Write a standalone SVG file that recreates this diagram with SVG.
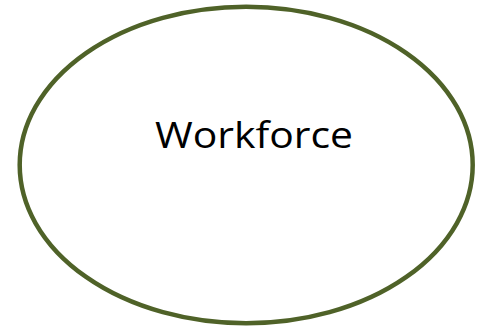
<svg xmlns="http://www.w3.org/2000/svg" width="483" height="327" viewBox="0 0 483 327">
<style>
.node-shape{fill:#ffffff;stroke:#4f6228;stroke-width:4.5}
.label{font-family:"Open Sans","Liberation Sans",sans-serif;font-size:36px;fill:#000000}
</style>
<rect width="483" height="327" fill="#ffffff"/>
<g id="workforce">
<ellipse class="node-shape" cx="246.2" cy="165" rx="226.5" ry="158.3"/>
<text class="label" x="254" y="147.5" text-anchor="middle" textLength="198" lengthAdjust="spacingAndGlyphs">Workforce</text>
</g>
<g id="connectors"></g>
</svg>
